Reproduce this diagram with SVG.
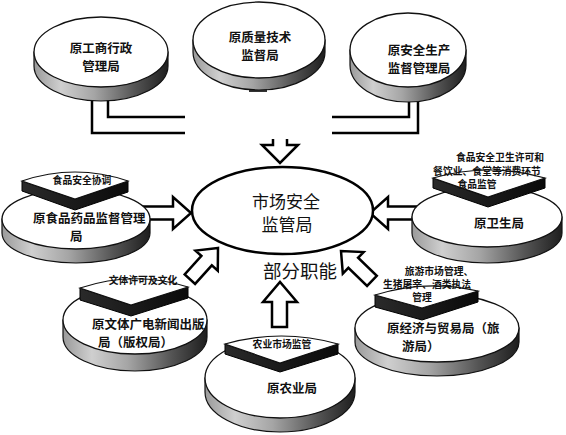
<svg xmlns="http://www.w3.org/2000/svg" width="566" height="435" viewBox="0 0 566 435">
<defs>
<linearGradient id="side" x1="0" y1="0" x2="1" y2="0">
<stop offset="0" stop-color="#9a9a9a"/>
<stop offset="0.2" stop-color="#cfcfcf"/>
<stop offset="0.45" stop-color="#a5a5a5"/>
<stop offset="0.75" stop-color="#555"/>
<stop offset="1" stop-color="#1e1e1e"/>
</linearGradient>
<linearGradient id="band" x1="0" y1="0" x2="1" y2="0">
<stop offset="0" stop-color="#2a2a2a"/>
<stop offset="1" stop-color="#0a0a0a"/>
</linearGradient>
</defs>
<style>
.side{fill:url(#side);stroke:#111;stroke-width:1.2}
.face{fill:#fff;stroke:#111;stroke-width:1.3}
.slab{fill:#fff;stroke:#111;stroke-width:1.2}
.band{fill:url(#band);stroke:#000;stroke-width:1}
.line{fill:none;stroke:#000;stroke-width:2.5}
.arrow{fill:#fff;stroke:#000;stroke-width:2.5;stroke-linejoin:miter}
text{font-family:"Noto Sans CJK SC","Noto Sans CJK JP",sans-serif;fill:#111;dominant-baseline:central}
.lbl{font-size:12.5px;font-weight:bold}
.sm{font-size:9.8px;font-weight:bold}
.big{font-size:17px}
.c{text-anchor:middle}
</style>
<rect width="566" height="435" fill="#fff"/>

<g id="connectors">
<polyline class="line" points="108,100 108,117 185,117"/>
<polyline class="line" points="92,100 92,133 185,133"/>
<polyline class="line" points="409,102 409,117 332,117"/>
<polyline class="line" points="418,102 418,133 332,133"/>
<path class="arrow" d="M273,139 L273,145 L262,145 L280,163 L298,145 L287,145 L287,139"/>
<path class="arrow" d="M143,206.5 L173,206.5 L173,197 L191,213 L173,229 L173,219.5 L149,219.5"/>
<path class="arrow" d="M417,206.5 L388,206.5 L388,197 L370,213 L388,229 L388,219.5 L412,219.5"/>
<polygon class="arrow" points="272,327 272,302 263,302 280,282 297,302 287,302 287,327"/>
<polygon class="arrow" transform="translate(218,248) rotate(-48)" points="0,0 -17,-15 -17,-7 -42,-7 -42,7 -17,7 -17,15"/>
<polygon class="arrow" transform="translate(341,251) rotate(-136)" points="0,0 -17,-15 -17,-7 -43,-7 -43,7 -17,7 -17,15"/>
</g>

<g id="node-gongshang">
<path class="side" d="M34,52 L34,66 A67,35 0 0 0 168,66 L168,52 Z"/>
<ellipse class="face" cx="101" cy="52" rx="67" ry="35"/>
<text class="lbl c" x="101" y="47">原工商行政</text>
<text class="lbl c" x="101" y="65">管理局</text>
</g>

<g id="node-zhiliang">
<rect x="249" y="87" width="18" height="5" fill="#333"/>
<path class="side" d="M193,40 L193,52 A66,38 0 0 0 325,52 L325,40 Z"/>
<ellipse class="face" cx="259" cy="40" rx="66" ry="38"/>
<text class="lbl c" x="260" y="36">原质量技术</text>
<text class="lbl c" x="260" y="54">监督局</text>
</g>

<g id="node-anquan">
<path class="side" d="M350,50 L350,65 A58,37 0 0 0 466,65 L466,50 Z"/>
<ellipse class="face" cx="408" cy="50" rx="58" ry="37"/>
<text class="lbl c" x="419" y="49">原安全生产</text>
<text class="lbl c" x="419" y="67">监督管理局</text>
</g>

<g id="node-center">
<ellipse cx="282.5" cy="210.5" rx="90.5" ry="43.5" fill="#fff" stroke="#000" stroke-width="2.5"/>
<text class="big c" x="286" y="200">市场安全</text>
<text class="big c" x="287" y="223">监管局</text>
<text class="c" x="300" y="270" style="font-size:18.5px">部分职能</text>
</g>

<g id="node-shipin">
<path class="side" d="M2,219 L2,233 A74,30 0 0 0 150,233 L150,219 Z"/>
<ellipse class="face" cx="76" cy="219" rx="74" ry="30"/>
<path class="band" d="M22,181 L75,199 L128,181 L128,192 L75,210 L22,191 Z"/>
<path class="slab" d="M22,181 Q75,163 128,181 L75,199 Z"/>
<text class="sm c" x="82" y="180">食品安全协调</text>
<text class="lbl" x="33" y="217">原食品药品监督管理</text>
<text class="lbl" x="70" y="235">局</text>
</g>

<g id="node-weisheng">
<path class="side" d="M412,217 L412,233 A75,30 0 0 0 562,233 L562,217 Z"/>
<ellipse class="face" cx="487" cy="217" rx="75" ry="30"/>
<path class="band" d="M433,178 L488,197 L545,178 L545,188 L488,207 L433,188 Z"/>
<path class="slab" d="M433,178 Q489,162 545,178 L488,197 Z"/>
<text class="sm c" x="500" y="157">食品安全卫生许可和</text>
<text class="sm c" x="487" y="171">餐饮业、食堂等消费环节</text>
<text class="sm c" x="477" y="184">食品监管</text>
<text class="lbl c" x="499" y="222">原卫生局</text>
</g>

<g id="node-wenti">
<path class="side" d="M63,320 L63,337 A72,34 0 0 0 207,337 L207,320 Z"/>
<ellipse class="face" cx="135" cy="320" rx="72" ry="34"/>
<path class="band" d="M80,288 L131,305 L188,287 L188,298 L131,316 L80,300 Z"/>
<path class="slab" d="M80,288 Q134,270 188,287 L131,305 Z"/>
<text class="sm c" x="143" y="280">文体许可及文化</text>
<text class="lbl" x="92" y="323">原文体广电新闻出版</text>
<text class="lbl" x="98" y="341">局（版权局）</text>
</g>

<g id="node-nongye">
<path class="side" d="M205,378 L205,392 A75,40 0 0 0 355,392 L355,378 Z"/>
<ellipse class="face" cx="280" cy="378" rx="75" ry="40"/>
<path class="band" d="M225,344 L280,363 L338,344 L338,354 L280,372 L225,354 Z"/>
<path class="slab" d="M225,344 Q281,328 338,344 L280,363 Z"/>
<text class="sm c" x="282" y="344">农业市场监管</text>
<text class="lbl c" x="292" y="387">原农业局</text>
</g>

<g id="node-jingji">
<path class="side" d="M355,328 L355,342 A82,34 0 0 0 519,342 L519,328 Z"/>
<ellipse class="face" cx="437" cy="328" rx="82" ry="34"/>
<path class="band" d="M375,295 L422,308 L478,291 L478,302 L422,320 L375,307 Z"/>
<path class="slab" d="M375,295 Q426,279 478,291 L422,308 Z"/>
<text class="sm c" x="439" y="271">旅游市场管理、</text>
<text class="sm c" x="427" y="284">生猪屠宰、酒类执法</text>
<text class="sm c" x="422" y="297">管理</text>
<text class="lbl" x="387" y="327">原经济与贸易局（旅</text>
<text class="lbl" x="402" y="345">游局）</text>
</g>
</svg>
